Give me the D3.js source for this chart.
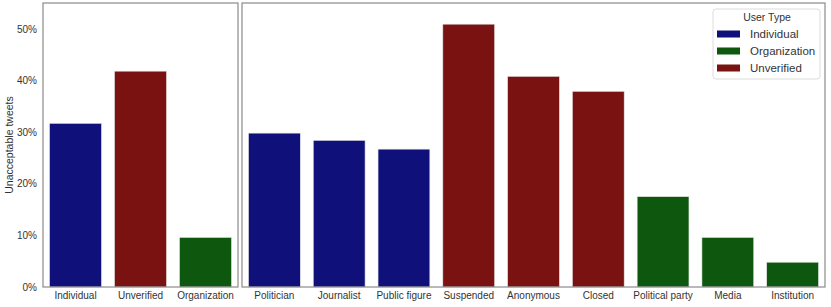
<!DOCTYPE html>
<html>
<head>
<meta charset="utf-8" />
<title>Unacceptable tweets by user type</title>
<style>
body { margin: 0; background: white; font-family: "Liberation Sans", Arial, sans-serif; }
text { fill: #333; }
</style>
<script src="https://d3js.org/d3.v7.min.js"></script>
</head>
<body>
<script>
var width = 831;
var height = 307;

// left panel: verification groups
var groupNames = ["Individual", "Unverified", "Organization"];
var groupValues = [0.317, 0.418, 0.096];
var groupTypes = ["Individual", "Unverified", "Organization"];

// right panel: account subtypes
var subNames = ["Politician", "Journalist", "Public figure", "Suspended", "Anonymous", "Closed", "Political party", "Media", "Institution"];
var subValues = [0.298, 0.284, 0.267, 0.509, 0.408, 0.379, 0.175, 0.096, 0.048];
var subTypes = ["Individual", "Individual", "Individual", "Unverified", "Unverified", "Unverified", "Organization", "Organization", "Organization"];

var yTicks = [0, 0.1, 0.2, 0.3, 0.4, 0.5];
var legendTypes = ["Individual", "Organization", "Unverified"];

var colour = d3.scaleOrdinal()
  .domain(["Individual", "Organization", "Unverified"])
  .range(["#10107a", "#0d580e", "#7a1212"]);

// plot area edges (window.top is reserved, so use other names)
var plotTop = 3, plotBottom = 287;

var svg = d3.select("body").append("svg")
  .attr("width", width)
  .attr("height", height);

var y = d3.scaleLinear().domain([0, 0.55]).range([plotBottom, plotTop]);

function panel(x0, x1, names, values, types) {
  var x = d3.scaleBand().domain(names).range([x0, x1]).paddingInner(0.2).paddingOuter(0.1);
  var g = svg.append("g");

  g.selectAll("rect.bar")
    .data(names)
    .enter().append("rect")
    .attr("class", "bar")
    .attr("x", function(d) { return x(d); })
    .attr("width", x.bandwidth())
    .attr("y", function(d, i) { return y(values[i]); })
    .attr("height", function(d, i) { return plotBottom - y(values[i]); })
    .attr("fill", function(d, i) { return colour(types[i]); })
    .attr("stroke", "#e6e6e6")
    .attr("stroke-width", 0.6);

  var xAxis = g.append("g")
    .attr("transform", "translate(0," + plotBottom + ")")
    .call(d3.axisBottom(x).tickSize(0).tickPadding(5));
  xAxis.select(".domain").remove();
  xAxis.selectAll("text").attr("font-size", 10).attr("font-family", "Liberation Sans, Arial, sans-serif").style("fill", "#333");

  // frame
  g.append("rect")
    .attr("x", x0).attr("y", plotTop)
    .attr("width", x1 - x0).attr("height", plotBottom - plotTop)
    .attr("fill", "none")
    .attr("stroke", "#8a8a8a")
    .attr("stroke-width", 1.2);
  return g;
}

panel(43, 238, groupNames, groupValues, groupTypes);
panel(242, 825, subNames, subValues, subTypes);

var yAxis = svg.append("g")
  .attr("transform", "translate(43,0)")
  .call(d3.axisLeft(y).tickValues(yTicks).tickFormat(d3.format(".0%")).tickSize(0).tickPadding(6));
yAxis.select(".domain").remove();
yAxis.selectAll("text").attr("font-size", 10).attr("font-family", "Liberation Sans, Arial, sans-serif").style("fill", "#333");

svg.append("text")
  .attr("transform", "translate(12.5," + ((plotTop + plotBottom) / 2) + ") rotate(-90)")
  .attr("text-anchor", "middle")
  .attr("font-size", 10.5)
  .text("Unacceptable tweets");

// legend
var leg = svg.append("g").attr("transform", "translate(713,9)");
leg.append("rect")
  .attr("width", 107).attr("height", 70)
  .attr("rx", 3)
  .attr("fill", "white")
  .attr("stroke", "#dcdcdc")
  .attr("stroke-width", 1);
leg.append("text")
  .attr("x", 54).attr("y", 12)
  .attr("text-anchor", "middle")
  .attr("font-size", 10.5)
  .text("User Type");
var items = leg.selectAll("g.item")
  .data(legendTypes)
  .enter().append("g")
  .attr("class", "item")
  .attr("transform", function(d, i) { return "translate(0," + (25 + i * 17) + ")"; });
items.append("rect")
  .attr("x", 4).attr("y", -3.5)
  .attr("width", 23).attr("height", 7)
  .attr("fill", function(d) { return colour(d); });
items.append("text")
  .attr("x", 37).attr("y", 4)
  .attr("font-size", 11.5)
  .text(function(d) { return d; });
</script>
</body>
</html>
